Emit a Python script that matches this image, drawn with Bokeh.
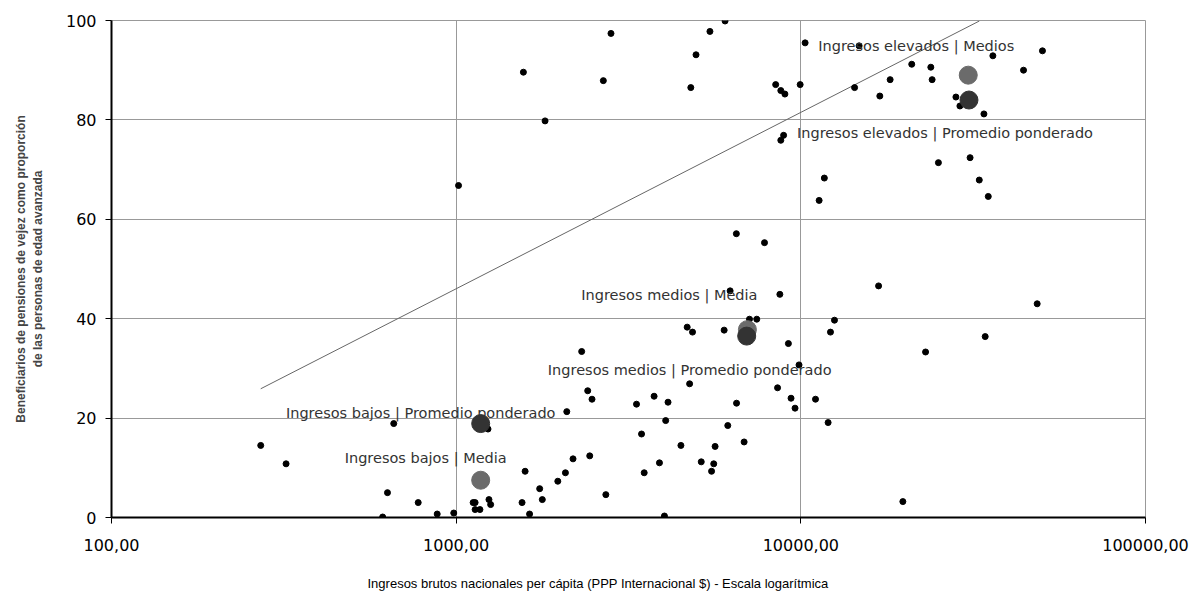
from bokeh.plotting import figure
from bokeh.models import Range1d, FixedTicker, ColumnDataSource, Title
from bokeh.embed import file_html
from bokeh.resources import INLINE
from bokeh.core.properties import value

# Country observations: GNI per capita (PPP int. $) and old-age pension beneficiaries (%)
gni = [1016, 1567, 1811, 2673, 2813, 4795, 4965, 5448, 6028, 8453, 8748, 8990, 9955,
       10290, 8913, 8748, 11700, 11300, 6500, 7845,
       14760, 14320, 16950, 18160, 20980, 23830, 24040, 28180, 28940, 33980, 36070,
       44270, 50240, 25070, 30980, 32940, 34980,
       271, 321, 659, 632, 776, 612, 881, 984, 1237, 1120, 1135, 1245, 1259, 1135, 1172,
       1553, 1633, 1585, 1747, 1778, 1972, 2075, 2183, 2094, 2313, 2408, 2478, 2441, 2718,
       3336, 3450, 3512, 3752, 3889, 4020, 4054, 4118, 4488, 4680, 4850, 4757, 5141, 5508,
       5589, 5640, 5991, 6138, 6235, 6508, 6846, 7096, 7450, 8692, 8560, 9203, 9367, 9620,
       9880, 11030, 12000, 12190, 12520, 16810, 23010, 34270, 48500, 19770]
pension = [66.8, 89.6, 79.8, 87.9, 97.4, 86.5, 93.1, 97.8, 99.9, 87.1, 85.9, 85.2, 87.1,
           95.5, 76.9, 75.9, 68.3, 63.8, 57.1, 55.3,
           94.9, 86.5, 84.8, 88.1, 91.2, 90.6, 88.1, 84.6, 82.8, 81.2, 92.9,
           90.0, 93.9, 71.4, 72.4, 67.9, 64.6,
           14.5, 10.8, 18.9, 5.0, 3.0, 0.1, 0.7, 0.9, 17.8, 3.0, 3.0, 3.6, 2.6, 1.6, 1.6,
           3.0, 0.7, 9.3, 5.8, 3.6, 7.3, 9.0, 11.8, 21.3, 33.4, 25.5, 23.8, 12.4, 4.6,
           22.8, 16.8, 9.0, 24.4, 11.0, 0.3, 19.5, 23.2, 14.5, 38.3, 37.3, 26.9, 11.2, 9.3,
           10.8, 14.3, 37.7, 18.5, 45.6, 23.0, 15.2, 39.9, 39.9, 44.9, 26.1, 35.0, 24.0, 22.0,
           30.7, 23.8, 19.1, 37.3, 39.7, 46.6, 33.3, 36.4, 43.0, 3.2]

# Income-group summaries
group_names = ["Ingresos bajos | Media", "Ingresos bajos | Promedio ponderado",
               "Ingresos medios | Media", "Ingresos medios | Promedio ponderado",
               "Ingresos elevados | Medios", "Ingresos elevados | Promedio ponderado"]
group_gni = [1178, 1178, 6998, 6965, 30600, 30750]
group_pension = [7.5, 18.9, 37.8, 36.5, 89.0, 84.0]

# Trend line end points
trend_gni = [271, 32960]
trend_pension = [25.9, 99.9]

x_ticks = [100, 1000, 10000, 100000]
x_tick_labels = ["100,00", "1000,00", "10000,00", "100000,00"]
y_ticks = [0, 20, 40, 60, 80, 100]

x_title = "Ingresos brutos nacionales per cápita (PPP Internacional $) - Escala logarítmica"
y_title = "Beneficiarios de pensiones de vejez como proporción\nde las personas de edad avanzada"

# styling (not data)
group_colors = ["#6b6b6b", "#333333", "#6b6b6b", "#333333", "#6b6b6b", "#333333"]
label_dx = [-55, -60, -78, -57, -52, -24]
label_dy = [-22, -11, -35, 34, -29, 33]

FONT = "Liberation Sans"
WIDE = "DejaVu Sans"

p = figure(width=1195, height=592, x_axis_type="log",
           x_range=Range1d(100, 100000), y_range=Range1d(0, 100),
           output_backend="svg", toolbar_location=None,
           min_border_left=111, min_border_right=50, min_border_top=20, min_border_bottom=75)
p.outline_line_color = "#999999"
p.background_fill_color = "white"
p.border_fill_color = "white"

p.xgrid.ticker = FixedTicker(ticks=x_ticks)
p.ygrid.ticker = FixedTicker(ticks=y_ticks)
for g in (p.xgrid, p.ygrid):
    g.grid_line_color = "#999999"
    g.grid_line_width = 1

p.xaxis.ticker = FixedTicker(ticks=x_ticks)
p.xaxis.major_label_overrides = {t: l for t, l in zip(x_ticks, x_tick_labels)}
p.yaxis.ticker = FixedTicker(ticks=y_ticks)
for ax in (p.xaxis, p.yaxis):
    ax.axis_line_color = "black"
    ax.axis_line_width = 2
    ax.major_tick_in = 0
    ax.major_tick_out = 6
    ax.major_tick_line_color = "black"
    ax.minor_tick_line_color = None
    ax.major_label_text_font = WIDE
    ax.major_label_text_font_size = "16px"
    ax.major_label_text_color = "black"
p.xaxis.major_label_standoff = 15
p.yaxis.major_label_standoff = 9

p.yaxis.axis_label = y_title
p.yaxis.axis_label_text_font = FONT
p.yaxis.axis_label_text_font_size = "12px"
p.yaxis.axis_label_text_font_style = "bold"
p.yaxis.axis_label_standoff = 18

# blank spacer between the tick labels and the x title
p.add_layout(Title(text=" ", standoff=17, text_font_size="1px"), "below")

# x title positioned like the reference (centred on the page, not the frame)
p.add_layout(Title(text=x_title, align="left", offset=256, vertical_align="bottom",
                   standoff=0, text_font=FONT, text_font_size="13px",
                   text_font_style="normal", text_color="black"), "below")

p.line(trend_gni, trend_pension, line_color="#666666", line_width=1)
p.scatter(gni, pension, size=6, color="black")

src = ColumnDataSource(dict(x=group_gni, y=group_pension, name=group_names,
                            color=group_colors, dx=label_dx, dy=label_dy))
p.scatter("x", "y", source=src, size=18, fill_color="color", line_color="color")
p.text("x", "y", text="name", source=src, x_offset="dx", y_offset="dy",
       text_align="center", text_baseline="middle", text_font=value(WIDE),
       text_font_size="14.5px", text_color="#333333")

open("out.html", "w").write(file_html(p, INLINE))
